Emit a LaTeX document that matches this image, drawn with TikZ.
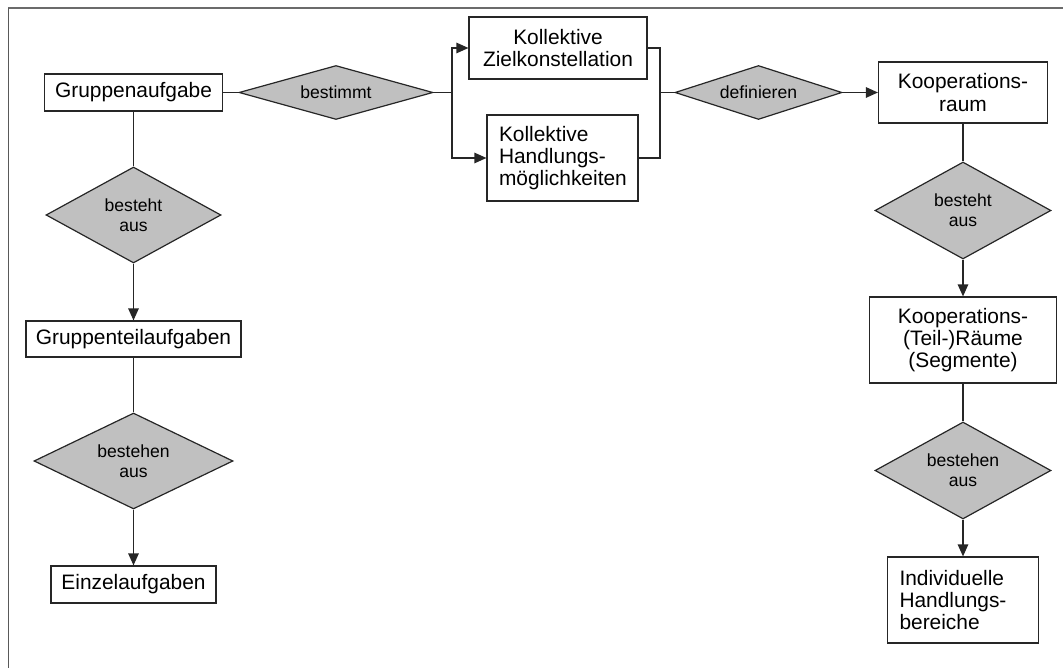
\documentclass[tikz,border=0pt]{standalone}
\usepackage{fontspec}
\setmainfont{Liberation Sans}
\usetikzlibrary{arrows.meta,shapes.geometric,positioning,calc}
\definecolor{relgray}{HTML}{C0C0C0}

\begin{document}
\begin{tikzpicture}[x=0.02cm, y=-0.02cm,
		conceptBox/.style={
				draw=black!85, line width=0.024cm, rectangle, fill=white,
				inner sep=0pt, align=center,
				font=\fontsize{11.9pt}{12.6pt}\selectfont
			},
		leftBox/.style={
				draw=black!85, line width=0.024cm, rectangle, fill=white,
				inner xsep=0.24cm, inner ysep=0pt,
				text width=2.54cm, minimum height=1.72cm, align=left,
				font=\fontsize{11.9pt}{12.6pt}\selectfont
			},
		relDiamond/.style={
				draw=black!85, line width=0.024cm, shape=diamond, aspect=2, fill=relgray,
				inner sep=0pt, align=center,
				minimum width=3.52cm, minimum height=1.94cm,
				font=\fontsize{10pt}{11.3pt}\selectfont
			},
		linkline/.style={line width=0.024cm, draw=black!85},
		linkarrow/.style={linkline, -{Triangle[length=0.24cm, width=0.21cm]}}
	]
	\useasboundingbox (0,0) rectangle (1063,668);

	% frame (only top and left edge visible)
	\draw[black!58, line width=0.04cm] (8,8.5) -- (1063,8.5);
	\draw[black!65, line width=0.03cm] (8.3,8) -- (8.3,668);

	% top row
	\node[conceptBox, minimum width=3.56cm, minimum height=0.74cm] (GA) at (133.5,92.5) {Gruppenaufgabe};
	\node[relDiamond, minimum width=3.88cm, minimum height=1.08cm] (D1) at (336,92.5) {bestimmt};
	\node[conceptBox, minimum width=3.56cm, minimum height=1.24cm] (KZ) at (558,48) {Kollektive\\Zielkonstellation};
	\node[leftBox] (KH) at (562.5,158) {Kollektive\\Handlungs-\\möglichkeiten};
	\node[relDiamond, minimum width=3.34cm, minimum height=1.08cm] (D2) at (758.5,92.5) {definieren};
	\node[conceptBox, minimum width=3.38cm, minimum height=1.22cm] (KR) at (963,92.5) {Kooperations-\\raum};
	\coordinate (splitL) at (452,92.5);
	\coordinate (joinR) at (660,92.5);

	% left column
	\node[relDiamond, minimum width=3.5cm, minimum height=1.92cm] (D5) at (133.5,215) {besteht\\aus};
	\node[conceptBox, minimum width=4.3cm, minimum height=0.72cm] (GT) at (133.5,339) {Gruppenteilaufgaben};
	\node[relDiamond, minimum width=3.98cm, minimum height=1.92cm] (D6) at (133.5,461) {bestehen\\aus};
	\node[conceptBox, minimum width=3.3cm, minimum height=0.74cm] (EA) at (133.5,584.5) {Einzelaufgaben};

	% right column
	\node[relDiamond] (D3) at (963,210.5) {besteht\\aus};
	\node[conceptBox, minimum width=3.74cm, minimum height=1.72cm] (KT) at (963,340) {Kooperations-\\(Teil-)Räume\\(Segmente)};
	\node[relDiamond] (D4) at (963,470.5) {bestehen\\aus};
	\node[leftBox] (IH) at (963,600) {Individuelle\\Handlungs-\\bereiche};

	\draw[linkline] (GA) -- (D1);
	\draw[linkline] (D1) -- (splitL);
	\draw[linkarrow] (splitL) |- (KZ);
	\draw[linkarrow] (splitL) |- (KH);
	\draw[linkline] (KZ) -| (joinR);
	\draw[linkline] (KH) -| (joinR);
	\draw[linkline] (joinR) -- (D2);
	\draw[linkarrow] (D2) -- (KR);

	\draw[linkline] (GA) -- (D5);
	\draw[linkarrow] (D5) -- (GT);
	\draw[linkline] (GT) -- (D6);
	\draw[linkarrow] (D6) -- (EA);

	\draw[linkline] (KR) -- (D3);
	\draw[linkarrow] (D3) -- (KT);
	\draw[linkline] (KT) -- (D4);
	\draw[linkarrow] (D4) -- (IH);
\end{tikzpicture}
\end{document}
